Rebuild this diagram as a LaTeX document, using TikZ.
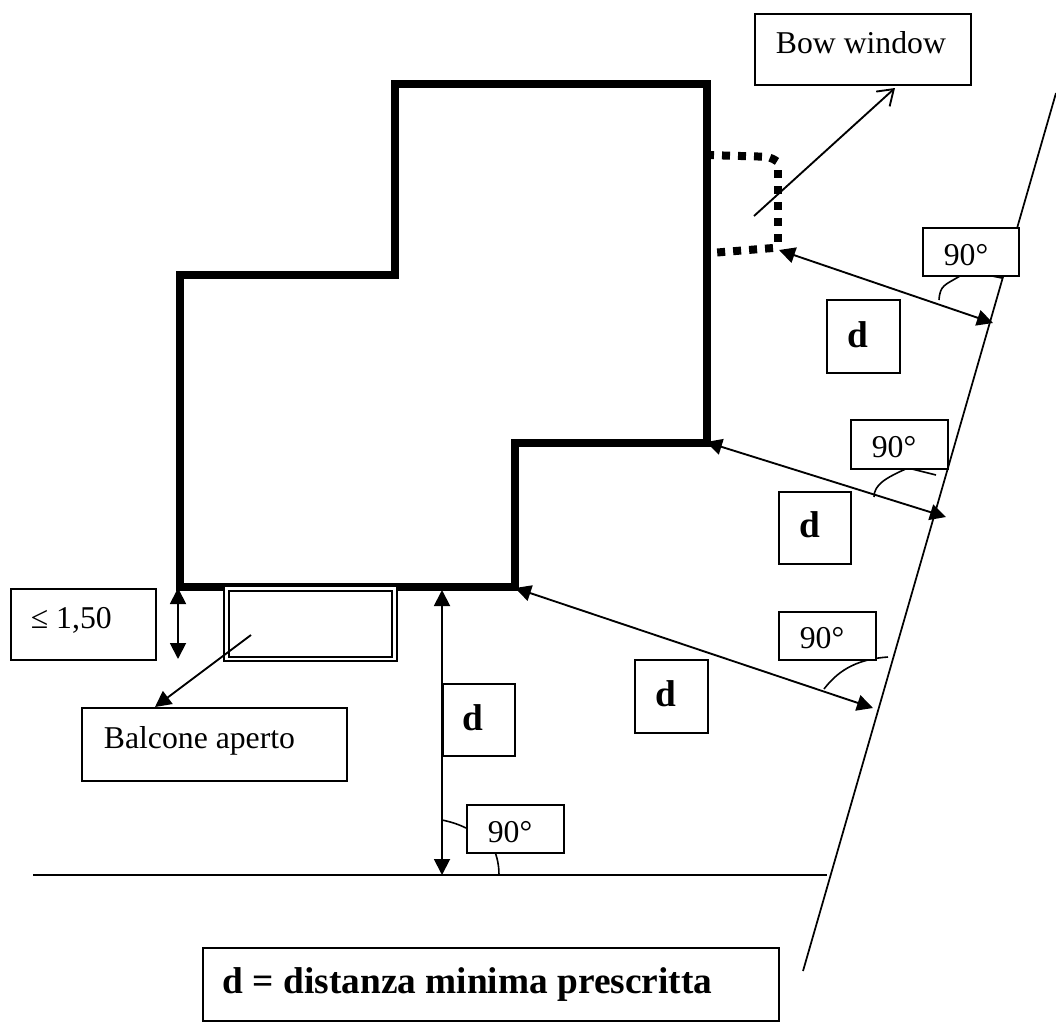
\documentclass[tikz,border=0pt]{standalone}
\usepackage{fontspec}
\setmainfont{Liberation Serif}
\usetikzlibrary{arrows.meta}
\def\pxu{0.75}
\newcommand\lblbox[9][]{%
  % #1 options, #2 name, #3 x1, #4 y1, #5 x2, #6 y2, #7 text x, #8 baseline, #9 text
  \pgfmathsetmacro\bxo{(#7-#3)*\pxu}%
  \pgfmathsetmacro\bxw{(#5-#3)*\pxu-2*\bxo}%
  \pgfmathsetmacro\bxh{(#8-#4)*\pxu}%
  \pgfmathsetmacro\bxd{(#6-#8)*\pxu}%
  \node[labelbox,#1,anchor=north west,inner xsep=\bxo pt,text width=\bxw pt,text height=\bxh pt,text depth=\bxd pt] (#2) at (#3,#4) {#9};%
}
\tikzset{
  labelbox/.style={draw=black,fill=white,line width=1.3pt,inner ysep=0pt,align=flush left,font=\fontsize{23.8}{26}\selectfont},
  boldbox/.style={font=\fontsize{28}{30}\selectfont\bfseries},
  wall/.style={line width=5.6pt,line join=miter,line cap=rect},
  bay/.style={line width=6pt,dash pattern=on 6pt off 6pt},
  thin line/.style={line width=1.3pt},
  dim/.style={line width=1.4pt,{Triangle[length=12pt,width=12pt]}-{Triangle[length=12pt,width=12pt]}},
  lead/.style={line width=1.4pt,-{Triangle[length=12pt,width=12pt]}},
  barb/.style={line width=1.4pt,-{Straight Barb[length=11pt,width=15pt,line width=1.4pt]}},
  anglearc/.style={line width=1.2pt},
  balcony/.style={draw=black,fill=white,line width=1.5pt,double=white,double distance=1.8pt,minimum width=125.8pt,minimum height=52.8pt,inner sep=0pt}
}
\begin{document}
\begin{tikzpicture}[x=0.75pt,y=-0.75pt]
\useasboundingbox[fill=white] (0,0) rectangle (1056,1028);
% boundary lines
\coordinate (slanttop) at (1056,93);
\coordinate (slantbot) at (803,971);
\coordinate (baseL) at (33,875);
\coordinate (baseR) at (827,875);
\draw[thin line] (slanttop) -- (slantbot);
\draw[thin line] (baseL) -- (baseR);
% building
\draw[wall] (180,587) -- (180,275) -- (395,275) -- (395,84) -- (707,84) -- (707,443) -- (515,443) -- (515,587) -- cycle;
% balcony
\node[balcony] (balc) at (310.5,623.7) {};
% bow window
\draw[bay] (706,155) -- (758,156.5) .. controls (770,157) .. (778,162);
\draw[bay] (778,170) -- (778,243);
\draw[bay] (773,248) -- (717,252.5);
% angle arcs
\draw[anglearc] (939,300) .. controls (940,285) and (945,285) .. (960,276);
\draw[anglearc] (992,276) -- (1002,278);
\draw[anglearc] (874,497) .. controls (874,485) and (885,478) .. (908,468) -- (936,475);
\draw[anglearc] (824,689) .. controls (840,668) and (860,659) .. (888,657);
\draw[anglearc] (442,820) .. controls (452,822) and (460,825) .. (466,828);
\draw[anglearc] (495,852) .. controls (498,860) and (499,868) .. (499,875);
% boxes
\lblbox{bowbox}{754}{13}{970}{84}{775}{53}{Bow window}
\lblbox{ang1}{922}{227}{1018}{275}{943}{265}{90°}
\lblbox{ang2}{850}{419}{947}{468}{871}{457}{90°}
\lblbox{ang3}{778}{611}{875}{659}{799}{648}{90°}
\lblbox{ang4}{466}{804}{563}{852}{487}{842}{90°}
\lblbox[boldbox]{d1}{826}{299}{899}{372}{847}{347}{d}
\lblbox[boldbox]{d2}{778}{491}{850}{563}{799}{537}{d}
\lblbox[boldbox]{d3}{634}{659}{707}{732}{655}{706}{d}
\lblbox[boldbox]{d4}{442}{683}{514}{755}{462}{730}{d}
\lblbox{limit}{10}{588}{155}{659}{30}{628}{≤ 1,50}
\lblbox{balclabel}{81}{707}{346}{780}{103}{748}{Balcone aperto}
\lblbox[boldbox]{legend}{202}{947}{778}{1020}{222}{993}{d = distanza minima prescritta}
% connectors
\coordinate (bay) at (779,250);
\coordinate (slant1) at (993,323);
\coordinate (corner1) at (706,442);
\coordinate (slant2) at (946,517);
\coordinate (corner2) at (515,588);
\coordinate (slant3) at (873,708);
\coordinate (wallfoot) at (442,590);
\coordinate (basefoot) at (442,875);
\coordinate (limtop) at (178,588);
\coordinate (limbot) at (178,659);
\coordinate (balcin) at (251,635);
\coordinate (balctip) at (155,707);
\coordinate (bayin) at (754,216);
\coordinate (bowtip) at (895,88);
\draw[dim] (bay) -- (slant1);
\draw[dim] (corner1) -- (slant2);
\draw[dim] (corner2) -- (slant3);
\draw[dim] (wallfoot) -- (basefoot);
\draw[dim] (limtop) -- (limbot);
\draw[lead] (balcin) -- (balctip);
\draw[barb] (bayin) -- (bowtip);
\end{tikzpicture}
\end{document}
